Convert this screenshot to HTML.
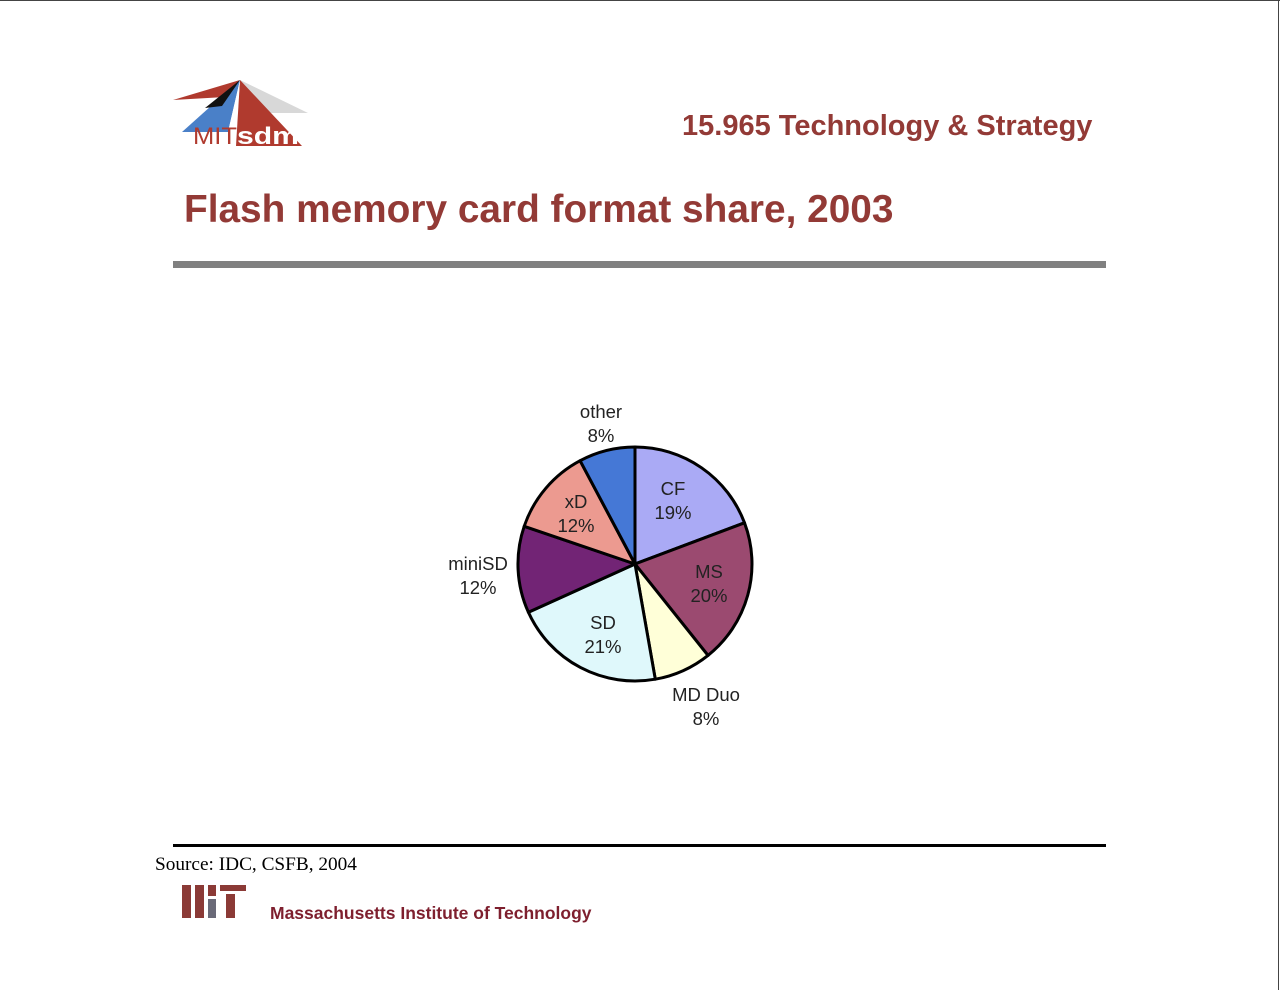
<!DOCTYPE html>
<html><head><meta charset="utf-8"><style>
html,body{margin:0;padding:0;background:#fff;}
body{width:1280px;height:990px;position:relative;overflow:hidden;font-family:"Liberation Sans",sans-serif;}
.t{position:absolute;white-space:nowrap;}
</style></head><body>
<div style="position:absolute;left:0;top:0;width:1280px;height:1px;background:#444"></div>
<div style="position:absolute;right:1px;top:0;width:1px;height:990px;background:#444"></div>
<svg style="position:absolute;left:0;top:0" width="1280" height="990">
<!-- logo -->
<polygon points="240,80 173,100 225,97" fill="#b03a2e"/>
<polygon points="240,80 182,132 228,132" fill="#4a80c8"/>
<polygon points="240,80 205,108 222,106" fill="#111"/>
<polygon points="240,80 308,113 250,113" fill="#d8d8d8"/>
<polygon points="240,80 236,146 302,146" fill="#b03a2e"/>
<polygon points="240,80 228,132 236,132" fill="#fff"/>
<text x="193" y="144" font-family="Liberation Sans" font-size="24" fill="#b03a2e" textLength="44" lengthAdjust="spacingAndGlyphs">MIT</text>
<text x="237" y="144" font-family="Liberation Sans" font-weight="bold" font-size="24" fill="#fff" textLength="62" lengthAdjust="spacingAndGlyphs">sdm</text>
<!-- bars -->
<rect x="173" y="261" width="933" height="7" fill="#808080"/>
<rect x="173" y="844" width="933" height="3" fill="#000"/>
<!-- pie -->
<g stroke="#000" stroke-width="3" stroke-linejoin="round">
<path d="M635,564 L635,447 A117,117 0 0 1 744.5,522.8 Z" fill="#aaaaf5"/>
<path d="M635,564 L744.5,522.8 A117,117 0 0 1 708,655.4 Z" fill="#9b4a70"/>
<path d="M635,564 L708,655.4 A117,117 0 0 1 655.3,679.2 Z" fill="#ffffd8"/>
<path d="M635,564 L655.3,679.2 A117,117 0 0 1 528.4,612.3 Z" fill="#dff8fb"/>
<path d="M635,564 L528.4,612.3 A117,117 0 0 1 524.2,526.3 Z" fill="#722475"/>
<path d="M635,564 L524.2,526.3 A117,117 0 0 1 580.1,460.7 Z" fill="#ec9a90"/>
<path d="M635,564 L580.1,460.7 A117,117 0 0 1 635,447 Z" fill="#4578d6"/>
</g>
<g font-family="Liberation Sans" font-size="18.5" fill="#222" text-anchor="middle">
<text x="601" y="418">other</text><text x="601" y="442">8%</text>
<text x="673" y="495">CF</text><text x="673" y="519">19%</text>
<text x="576" y="508">xD</text><text x="576" y="532">12%</text>
<text x="478" y="570">miniSD</text><text x="478" y="594">12%</text>
<text x="709" y="578">MS</text><text x="709" y="602">20%</text>
<text x="603" y="629">SD</text><text x="603" y="653">21%</text>
<text x="706" y="701">MD Duo</text><text x="706" y="725">8%</text>
</g>
<!-- MIT footer logo -->
<rect x="182" y="885" width="9" height="33" fill="#8b3a36"/>
<rect x="195" y="885" width="9" height="33" fill="#8b3a36"/>
<rect x="208" y="885" width="8" height="11" fill="#8b3a36"/>
<rect x="208" y="899" width="8" height="19" fill="#6a6a78"/>
<rect x="220" y="885" width="26" height="6" fill="#8b3a36"/>
<rect x="226" y="894" width="9" height="24" fill="#8b3a36"/>
</svg>
<div class="t" style="left:682px;top:110px;font-size:29px;font-weight:bold;color:#933a36">15.965 Technology &amp; Strategy</div>
<div class="t" style="left:184px;top:188px;font-size:38.8px;font-weight:bold;color:#933a36">Flash memory card format share, 2003</div>
<div class="t" style="left:155px;top:854px;font-size:19.3px;font-family:'Liberation Serif',serif;color:#000">Source: IDC, CSFB, 2004</div>
<div class="t" style="left:270px;top:903px;font-size:17.5px;font-weight:bold;color:#7e1f2e">Massachusetts Institute of Technology</div>
</body></html>
